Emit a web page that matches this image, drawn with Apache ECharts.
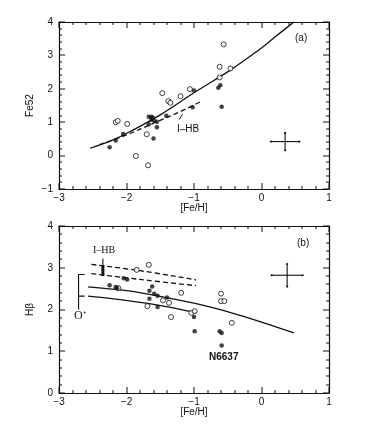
<!DOCTYPE html>
<html>
<head>
<meta charset="utf-8">
<script src="https://cdn.jsdelivr.net/npm/echarts@6/dist/echarts.min.js"></script>
<style>html,body{margin:0;padding:0;background:#fff}#c{width:365px;height:438px}</style>
</head>
<body>
<div id="c"></div>
<script>
// ---------- Data ----------
// tick labels
const xTicks = [-3, -2, -1, 0, 1];
const yTicksA = [-1, 0, 1, 2, 3, 4];
const yTicksB = [0, 1, 2, 3, 4];

// Panel (a): Fe52 vs [Fe/H]
const aFilled = [[-2.25,0.25],[-2.16,0.45],[-2.05,0.65],[-1.67,0.94],[-1.67,1.16],[-1.63,1.16],[-1.61,1.13],
  [-1.63,1.07],[-1.59,1.04],[-1.55,0.85],[-1.55,1.01],[-1.60,0.51],[-1.41,1.19],[-1.02,1.45],[-1.00,1.95],
  [-0.64,2.03],[-0.61,2.11],[-0.59,1.46]];
const aOpen = [[-2.16,1.00],[-2.13,1.04],[-1.99,0.95],[-1.86,-0.01],[-1.68,-0.29],[-1.70,0.64],[-1.47,1.87],
  [-1.38,1.63],[-1.35,1.58],[-1.20,1.78],[-1.06,1.99],[-0.56,3.33],[-0.62,2.66],[-0.46,2.61],[-0.62,2.34]];
const aSolid = [[-2.54,0.22],[-2.2,0.47],[-1.9,0.77],[-1.5,1.22],[-1.0,1.88],[-0.46,2.56],[-0.32,2.76],[0.0,3.22],[0.2,3.55],[0.48,4.0]];
const aDashed = [[-2.4,0.33],[-2.0,0.62],[-1.6,0.97],[-1.2,1.32],[-0.88,1.64]];
const aPointer = [[-1.22,1.08],[-1.17,1.24]];
const aError = [[0.35,0.42,0.21,0.26]];

// Panel (b): H-beta vs [Fe/H]
const bFilled = [[-2.25,2.58],[-2.16,2.54],[-2.14,2.51],[-2.04,2.75],[-1.99,2.72],[-1.62,2.55],[-1.66,2.45],
  [-1.59,2.38],[-1.54,2.33],[-1.66,2.26],[-1.40,2.29],[-1.54,2.06],[-1.00,1.82],[-0.99,1.48],[-0.62,1.48],
  [-0.59,1.44],[-0.59,1.14]];
const bOpen = [[-1.85,2.95],[-1.67,3.07],[-1.19,2.40],[-0.60,2.38],[-0.60,2.20],[-0.55,2.20],[-0.44,1.68],
  [-1.69,2.08],[-1.46,2.22],[-1.37,2.16],[-1.34,1.82],[-1.04,1.92],[-0.99,1.96],[-2.12,2.51]];
const bSolidUpper = [[-2.57,2.54],[-2.0,2.45],[-1.66,2.36],[-1.0,2.15],[-0.42,1.91],[0.0,1.70],[0.48,1.44]];
const bSolidLower = [[-2.57,2.32],[-1.66,2.14],[-0.97,1.92]];
const bDashedUpper = [[-2.52,3.08],[-1.8,2.93],[-0.97,2.71]];
const bDashedLower = [[-2.52,2.86],[-1.8,2.72],[-0.97,2.57]];
const bBracket = [[-2.62,2.84],[-2.71,2.84],[-2.71,2.0]];
const bBracketMid = [[-2.71,2.32],[-2.62,2.32]];
const bIHBThin = [[-2.35,3.22],[-2.35,3.06]];
const bIHBThick = [[-2.35,3.06],[-2.35,2.80]];
const bError = [[0.38,2.82,0.23,0.27]];

// ---------- Chart ----------
const ink = '#111';
const tickFont = 'Liberation Sans';
const fmt = v => String(v).replace('-', '\u2212');

function xAx(grid, top) {
  return {
    type: 'value', gridIndex: grid, position: top ? 'top' : 'bottom',
    min: xTicks[0], max: xTicks[xTicks.length - 1], interval: 1,
    name: top ? '' : '[Fe/H]', nameLocation: 'middle', nameGap: 14, nameMoveOverlap: false,
    nameTextStyle: { fontFamily: tickFont, fontSize: 10, color: ink },
    axisLine: { show: true, onZero: false, lineStyle: { color: ink, width: 1.2 } },
    axisTick: { show: false }, minorTick: { show: false },
    axisLabel: { show: !top, margin: 4, fontFamily: tickFont, fontSize: 10, color: ink, formatter: fmt },
    splitLine: { show: false }, minorSplitLine: { show: false }
  };
}
function yAx(grid, right, ticks, name) {
  return {
    type: 'value', gridIndex: grid, position: right ? 'right' : 'left',
    min: ticks[0], max: ticks[ticks.length - 1], interval: 1,
    name: right ? '' : name, nameLocation: 'middle', nameGap: 24, nameRotate: 90, nameMoveOverlap: false,
    nameTextStyle: { fontFamily: tickFont, fontSize: 10, color: ink },
    axisLine: { show: true, onZero: false, lineStyle: { color: ink, width: 1.2 } },
    axisTick: { show: false }, minorTick: { show: false },
    axisLabel: { show: !right, margin: 6, fontFamily: tickFont, fontSize: 10, color: ink, formatter: fmt },
    splitLine: { show: false }, minorSplitLine: { show: false }
  };
}
// major tick values plus 4 minor steps per interval
function subdivide(t) {
  const out = [];
  for (let i = 0; i < t.length - 1; i++) {
    for (let k = 0; k < 5; k++) out.push([t[i] + (t[i + 1] - t[i]) * k / 5, k === 0]);
  }
  out.push([t[t.length - 1], true]);
  return out;
}
// inward ticks on all four sides of a panel (filled 1px rects), positioned through the axis scales
function frameTicks(xi, yi, xT, yT) {
  return {
    type: 'custom', xAxisIndex: xi, yAxisIndex: yi, data: [[xT[0], yT[0]]], silent: true, z: 10, clip: false,
    renderItem: function (params, api) {
      const cs = params.coordSys;
      const left = cs.x, right = cs.x + cs.width, top = cs.y, bottom = cs.y + cs.height;
      const ch = [];
      const box = (x, y, w, h) => ch.push({ type: 'rect', shape: { x: x, y: y, width: w, height: h }, style: { fill: ink }, z2: 100 });
      subdivide(xT).forEach(([v, major]) => {
        const px = Math.round(api.coord([v, yT[0]])[0]);
        const L = major ? 6 : 3;
        box(px - 0.5, bottom - L, 1, L);
        box(px - 0.5, top, 1, L);
      });
      subdivide(yT).forEach(([v, major]) => {
        const py = Math.round(api.coord([xT[0], v])[1]);
        const L = major ? 6 : 3;
        box(left, py - 0.5, L, 1);
        box(right - L, py - 0.5, L, 1);
      });
      return { type: 'group', children: ch };
    }
  };
}
function line(data, xi, yi, opts) {
  opts = opts || {};
  return {
    type: 'line', xAxisIndex: xi, yAxisIndex: yi, data: data, showSymbol: false, symbol: 'none',
    smooth: opts.smooth || false, silent: true, z: 3,
    lineStyle: { color: ink, width: opts.width || 1.3, type: opts.type || 'solid' }
  };
}
function scat(data, xi, yi, open) {
  return {
    type: 'scatter', xAxisIndex: xi, yAxisIndex: yi, data: data, symbol: 'circle',
    symbolSize: open ? 5 : 4.5, z: 5,
    itemStyle: open ? { color: '#fff', borderColor: ink, borderWidth: 1 } : { color: ink }
  };
}
function errCross(data, xi, yi) {
  return {
    type: 'custom', xAxisIndex: xi, yAxisIndex: yi, data: data, z: 4,
    renderItem: function (params, api) {
      const x = api.value(0), y = api.value(1), dx = api.value(2), dy = api.value(3);
      const l = api.coord([x - dx, y]), r = api.coord([x + dx, y]);
      const t = api.coord([x, y + dy]), b = api.coord([x, y - dy]);
      const st = { stroke: ink, lineWidth: 1.1 };
      const cap = p => ({ type: 'circle', shape: { cx: p[0], cy: p[1], r: 1.1 }, style: { fill: ink } });
      return { type: 'group', children: [
        { type: 'line', shape: { x1: l[0], y1: l[1], x2: r[0], y2: r[1] }, style: st },
        { type: 'line', shape: { x1: t[0], y1: t[1], x2: b[0], y2: b[1] }, style: st },
        cap(l), cap(r), cap(t), cap(b)
      ] };
    }
  };
}

const chart = echarts.init(document.getElementById('c'), null, { renderer: 'canvas' });
chart.setOption({
  animation: false,
  backgroundColor: '#fff',
  grid: [
    { left: 59, top: 22, width: 270, height: 167 },
    { left: 59, top: 226, width: 270, height: 167 }
  ],
  xAxis: [xAx(0, false), xAx(0, true), xAx(1, false), xAx(1, true)],
  yAxis: [yAx(0, false, yTicksA, 'Fe52'), yAx(0, true, yTicksA, ''), yAx(1, false, yTicksB, 'H\u03B2'), yAx(1, true, yTicksB, '')],
  series: [
    line(aSolid, 0, 0, { smooth: 0.4 }),
    line(aDashed, 0, 0, { smooth: 0.4, type: [5, 3] }),
    line(aPointer, 0, 0, { width: 1 }),
    scat(aOpen, 0, 0, true),
    scat(aFilled, 0, 0, false),
    errCross(aError, 0, 0),
    frameTicks(0, 0, xTicks, yTicksA),

    line(bSolidUpper, 2, 2, { smooth: 0.4 }),
    line(bSolidLower, 2, 2, { smooth: 0.4 }),
    line(bDashedUpper, 2, 2, { smooth: 0.4, type: [5, 3] }),
    line(bDashedLower, 2, 2, { smooth: 0.4, type: [5, 3] }),
    line(bBracket, 2, 2, { width: 1.1 }),
    line(bBracketMid, 2, 2, { width: 1.1 }),
    line(bIHBThin, 2, 2, { width: 1.1 }),
    line(bIHBThick, 2, 2, { width: 3 }),
    scat(bOpen, 2, 2, true),
    scat(bFilled, 2, 2, false),
    errCross(bError, 2, 2),
    frameTicks(2, 2, xTicks, yTicksB)
  ],
  graphic: [
    { type: 'text', left: 295, top: 33, style: { text: '(a)', font: '10px Liberation Sans', fill: ink } },
    { type: 'text', left: 177, top: 124, style: { text: 'I\u2013HB', font: '10px Liberation Sans', fill: ink } },
    { type: 'text', left: 297, top: 238, style: { text: '(b)', font: '10px Liberation Sans', fill: ink } },
    { type: 'text', left: 93, top: 245, style: { text: 'I\u2013HB', font: '10px Liberation Serif', fill: ink } },
    { type: 'text', left: 209, top: 352, style: { text: 'N6637', font: 'bold 10px Liberation Sans', fill: ink } },
    { type: 'text', left: 74, top: 310, style: { text: 'O', font: '12px Liberation Serif', fill: ink } },
    { type: 'text', left: 83, top: 309, style: { text: '+', font: '6px Liberation Sans', fill: ink } }
  ]
});
</script>
</body>
</html>
